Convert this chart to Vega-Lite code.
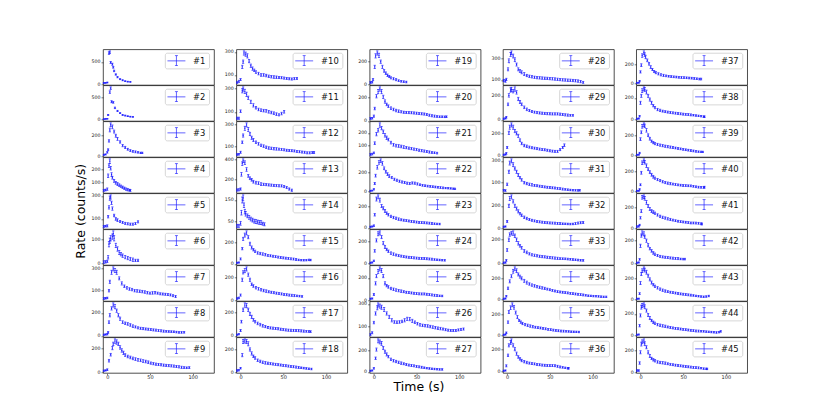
{
  "$schema": "https://vega.github.io/schema/vega-lite/v6.json",
  "background": "white",
  "padding": {"left": 74, "top": 48.3, "right": 2, "bottom": 2},
  "bounds": "flush",
  "spacing": {"row": 0, "column": 22.3},
  "data": {"values": [
    {"id":1,"t":-4,"r":30,"e":7},{"id":1,"t":-2,"r":32,"e":7},{"id":1,"t":0,"r":40,"e":9},{"id":1,"t":2,"r":700,"e":28},{"id":1,"t":3,"r":720,"e":28},{"id":1,"t":4,"r":490,"e":23},{"id":1,"t":6,"r":450,"e":23},{"id":1,"t":7,"r":380,"e":18},{"id":1,"t":8,"r":300,"e":18},{"id":1,"t":10,"r":220,"e":14},{"id":1,"t":12,"r":160,"e":14},{"id":1,"t":15,"r":115,"e":11},{"id":1,"t":18,"r":90,"e":11},{"id":1,"t":21,"r":70,"e":9},{"id":1,"t":24,"r":60,"e":9},{"id":1,"t":27,"r":55,"e":9},
    {"id":2,"t":-4,"r":5,"e":5},{"id":2,"t":-2,"r":8,"e":5},{"id":2,"t":0,"r":10,"e":5},{"id":2,"t":1,"r":100,"e":11},{"id":2,"t":3,"r":620,"e":28},{"id":2,"t":4,"r":710,"e":28},{"id":2,"t":5,"r":400,"e":23},{"id":2,"t":7,"r":385,"e":18},{"id":2,"t":9,"r":260,"e":18},{"id":2,"t":12,"r":190,"e":14},{"id":2,"t":15,"r":140,"e":11},{"id":2,"t":18,"r":100,"e":11},{"id":2,"t":21,"r":85,"e":11},{"id":2,"t":24,"r":70,"e":9},{"id":2,"t":27,"r":60,"e":9},{"id":2,"t":30,"r":55,"e":9},
    {"id":3,"t":-4,"r":12,"e":5},{"id":3,"t":-2,"r":15,"e":5},{"id":3,"t":0,"r":35,"e":7},{"id":3,"t":1,"r":60,"e":9},{"id":3,"t":2,"r":145,"e":11},{"id":3,"t":3,"r":250,"e":18},{"id":3,"t":4,"r":300,"e":18},{"id":3,"t":6,"r":280,"e":18},{"id":3,"t":8,"r":235,"e":14},{"id":3,"t":10,"r":195,"e":14},{"id":3,"t":12,"r":165,"e":14},{"id":3,"t":15,"r":135,"e":11},{"id":3,"t":18,"r":100,"e":11},{"id":3,"t":21,"r":82,"e":11},{"id":3,"t":24,"r":65,"e":9},{"id":3,"t":27,"r":52,"e":9},{"id":3,"t":30,"r":45,"e":9},{"id":3,"t":33,"r":40,"e":9},{"id":3,"t":36,"r":35,"e":7},{"id":3,"t":39,"r":30,"e":7},{"id":3,"t":41,"r":30,"e":7},
    {"id":4,"t":-4,"r":35,"e":7},{"id":4,"t":-2,"r":38,"e":7},{"id":4,"t":0,"r":45,"e":9},{"id":4,"t":1,"r":150,"e":14},{"id":4,"t":2,"r":230,"e":14},{"id":4,"t":3,"r":265,"e":18},{"id":4,"t":4,"r":210,"e":14},{"id":4,"t":5,"r":160,"e":14},{"id":4,"t":6,"r":135,"e":11},{"id":4,"t":8,"r":110,"e":11},{"id":4,"t":10,"r":95,"e":11},{"id":4,"t":12,"r":85,"e":11},{"id":4,"t":14,"r":76,"e":11},{"id":4,"t":16,"r":68,"e":9},{"id":4,"t":18,"r":60,"e":9},{"id":4,"t":20,"r":52,"e":9},{"id":4,"t":22,"r":45,"e":9},{"id":4,"t":24,"r":40,"e":9},{"id":4,"t":26,"r":37,"e":7},{"id":4,"t":27,"r":35,"e":7},
    {"id":5,"t":-4,"r":35,"e":7},{"id":5,"t":-2,"r":38,"e":7},{"id":5,"t":0,"r":40,"e":9},{"id":5,"t":1,"r":120,"e":11},{"id":5,"t":2,"r":200,"e":14},{"id":5,"t":3,"r":280,"e":18},{"id":5,"t":4,"r":290,"e":18},{"id":5,"t":5,"r":240,"e":14},{"id":5,"t":6,"r":190,"e":14},{"id":5,"t":8,"r":130,"e":11},{"id":5,"t":10,"r":100,"e":11},{"id":5,"t":12,"r":90,"e":11},{"id":5,"t":15,"r":78,"e":9},{"id":5,"t":18,"r":70,"e":9},{"id":5,"t":21,"r":62,"e":9},{"id":5,"t":24,"r":58,"e":9},{"id":5,"t":27,"r":55,"e":9},{"id":5,"t":30,"r":55,"e":9},{"id":5,"t":33,"r":60,"e":9},{"id":5,"t":36,"r":75,"e":9},
    {"id":6,"t":-4,"r":5,"e":5},{"id":6,"t":-2,"r":6,"e":5},{"id":6,"t":0,"r":8,"e":5},{"id":6,"t":1,"r":25,"e":7},{"id":6,"t":2,"r":80,"e":11},{"id":6,"t":3,"r":95,"e":11},{"id":6,"t":4,"r":105,"e":11},{"id":6,"t":6,"r":112,"e":11},{"id":6,"t":7,"r":125,"e":11},{"id":6,"t":8,"r":105,"e":11},{"id":6,"t":10,"r":75,"e":9},{"id":6,"t":12,"r":60,"e":9},{"id":6,"t":14,"r":45,"e":9},{"id":6,"t":16,"r":38,"e":7},{"id":6,"t":18,"r":32,"e":7},{"id":6,"t":21,"r":26,"e":7},{"id":6,"t":24,"r":22,"e":7},{"id":6,"t":27,"r":18,"e":7},{"id":6,"t":30,"r":15,"e":7},{"id":6,"t":33,"r":12,"e":5},{"id":6,"t":36,"r":12,"e":5},
    {"id":7,"t":-4,"r":30,"e":7},{"id":7,"t":-2,"r":32,"e":7},{"id":7,"t":0,"r":35,"e":7},{"id":7,"t":2,"r":100,"e":11},{"id":7,"t":3,"r":180,"e":14},{"id":7,"t":5,"r":265,"e":18},{"id":7,"t":7,"r":295,"e":18},{"id":7,"t":9,"r":280,"e":18},{"id":7,"t":11,"r":265,"e":18},{"id":7,"t":14,"r":210,"e":14},{"id":7,"t":17,"r":165,"e":14},{"id":7,"t":20,"r":140,"e":11},{"id":7,"t":23,"r":125,"e":11},{"id":7,"t":26,"r":115,"e":11},{"id":7,"t":29,"r":110,"e":11},{"id":7,"t":32,"r":100,"e":11},{"id":7,"t":35,"r":98,"e":11},{"id":7,"t":38,"r":95,"e":11},{"id":7,"t":41,"r":92,"e":11},{"id":7,"t":44,"r":88,"e":11},{"id":7,"t":47,"r":82,"e":11},{"id":7,"t":50,"r":78,"e":9},{"id":7,"t":53,"r":80,"e":11},{"id":7,"t":56,"r":82,"e":11},{"id":7,"t":59,"r":78,"e":9},{"id":7,"t":62,"r":72,"e":9},{"id":7,"t":65,"r":70,"e":9},{"id":7,"t":68,"r":68,"e":9},{"id":7,"t":71,"r":65,"e":9},{"id":7,"t":74,"r":62,"e":9},{"id":7,"t":77,"r":55,"e":9},{"id":7,"t":80,"r":48,"e":9},
    {"id":8,"t":-4,"r":10,"e":5},{"id":8,"t":-2,"r":12,"e":5},{"id":8,"t":0,"r":15,"e":7},{"id":8,"t":1,"r":30,"e":7},{"id":8,"t":2,"r":120,"e":11},{"id":8,"t":3,"r":180,"e":14},{"id":8,"t":5,"r":240,"e":14},{"id":8,"t":7,"r":270,"e":18},{"id":8,"t":9,"r":255,"e":18},{"id":8,"t":11,"r":220,"e":14},{"id":8,"t":13,"r":180,"e":14},{"id":8,"t":15,"r":150,"e":14},{"id":8,"t":18,"r":120,"e":11},{"id":8,"t":21,"r":110,"e":11},{"id":8,"t":24,"r":104,"e":11},{"id":8,"t":27,"r":95,"e":11},{"id":8,"t":30,"r":85,"e":11},{"id":8,"t":33,"r":78,"e":9},{"id":8,"t":36,"r":70,"e":9},{"id":8,"t":39,"r":66,"e":9},{"id":8,"t":42,"r":63,"e":9},{"id":8,"t":45,"r":60,"e":9},{"id":8,"t":48,"r":58,"e":9},{"id":8,"t":51,"r":55,"e":9},{"id":8,"t":54,"r":52,"e":9},{"id":8,"t":57,"r":50,"e":9},{"id":8,"t":60,"r":46,"e":9},{"id":8,"t":63,"r":44,"e":9},{"id":8,"t":66,"r":41,"e":9},{"id":8,"t":69,"r":39,"e":7},{"id":8,"t":72,"r":38,"e":7},{"id":8,"t":75,"r":37,"e":7},{"id":8,"t":78,"r":36,"e":7},{"id":8,"t":81,"r":33,"e":7},{"id":8,"t":84,"r":30,"e":7},{"id":8,"t":87,"r":30,"e":7},{"id":8,"t":90,"r":31,"e":7},
    {"id":9,"t":-4,"r":12,"e":5},{"id":9,"t":-2,"r":14,"e":5},{"id":9,"t":0,"r":20,"e":7},{"id":9,"t":2,"r":95,"e":11},{"id":9,"t":4,"r":145,"e":11},{"id":9,"t":6,"r":200,"e":14},{"id":9,"t":7,"r":235,"e":14},{"id":9,"t":9,"r":258,"e":18},{"id":9,"t":11,"r":250,"e":18},{"id":9,"t":13,"r":235,"e":14},{"id":9,"t":15,"r":205,"e":14},{"id":9,"t":17,"r":180,"e":14},{"id":9,"t":19,"r":160,"e":14},{"id":9,"t":21,"r":142,"e":11},{"id":9,"t":24,"r":130,"e":11},{"id":9,"t":27,"r":122,"e":11},{"id":9,"t":30,"r":114,"e":11},{"id":9,"t":33,"r":108,"e":11},{"id":9,"t":36,"r":102,"e":11},{"id":9,"t":39,"r":98,"e":11},{"id":9,"t":42,"r":92,"e":11},{"id":9,"t":45,"r":88,"e":11},{"id":9,"t":48,"r":82,"e":11},{"id":9,"t":51,"r":75,"e":9},{"id":9,"t":54,"r":70,"e":9},{"id":9,"t":57,"r":66,"e":9},{"id":9,"t":60,"r":63,"e":9},{"id":9,"t":63,"r":61,"e":9},{"id":9,"t":66,"r":58,"e":9},{"id":9,"t":69,"r":56,"e":9},{"id":9,"t":72,"r":54,"e":9},{"id":9,"t":75,"r":52,"e":9},{"id":9,"t":78,"r":50,"e":9},{"id":9,"t":81,"r":47,"e":9},{"id":9,"t":84,"r":44,"e":9},{"id":9,"t":87,"r":40,"e":9},{"id":9,"t":90,"r":38,"e":7},{"id":9,"t":93,"r":36,"e":7},{"id":9,"t":96,"r":38,"e":7},
    {"id":10,"t":-4,"r":35,"e":7},{"id":10,"t":-2,"r":45,"e":9},{"id":10,"t":0,"r":60,"e":9},{"id":10,"t":2,"r":170,"e":14},{"id":10,"t":3,"r":215,"e":14},{"id":10,"t":4,"r":290,"e":18},{"id":10,"t":6,"r":280,"e":18},{"id":10,"t":8,"r":265,"e":18},{"id":10,"t":10,"r":220,"e":14},{"id":10,"t":12,"r":180,"e":14},{"id":10,"t":14,"r":155,"e":14},{"id":10,"t":16,"r":140,"e":11},{"id":10,"t":18,"r":125,"e":11},{"id":10,"t":21,"r":112,"e":11},{"id":10,"t":24,"r":100,"e":11},{"id":10,"t":27,"r":100,"e":11},{"id":10,"t":30,"r":95,"e":11},{"id":10,"t":33,"r":88,"e":11},{"id":10,"t":36,"r":85,"e":11},{"id":10,"t":39,"r":82,"e":11},{"id":10,"t":42,"r":80,"e":11},{"id":10,"t":45,"r":78,"e":9},{"id":10,"t":48,"r":76,"e":9},{"id":10,"t":51,"r":73,"e":9},{"id":10,"t":54,"r":70,"e":9},{"id":10,"t":57,"r":67,"e":9},{"id":10,"t":60,"r":65,"e":9},{"id":10,"t":63,"r":68,"e":9},{"id":10,"t":66,"r":70,"e":9},
    {"id":11,"t":-4,"r":45,"e":9},{"id":11,"t":-2,"r":45,"e":9},{"id":11,"t":0,"r":105,"e":11},{"id":11,"t":2,"r":280,"e":18},{"id":11,"t":3,"r":295,"e":18},{"id":11,"t":5,"r":275,"e":18},{"id":11,"t":7,"r":250,"e":18},{"id":11,"t":9,"r":220,"e":14},{"id":11,"t":12,"r":185,"e":14},{"id":11,"t":15,"r":155,"e":14},{"id":11,"t":18,"r":135,"e":11},{"id":11,"t":21,"r":120,"e":11},{"id":11,"t":24,"r":114,"e":11},{"id":11,"t":27,"r":110,"e":11},{"id":11,"t":30,"r":108,"e":11},{"id":11,"t":33,"r":100,"e":11},{"id":11,"t":36,"r":94,"e":11},{"id":11,"t":39,"r":88,"e":11},{"id":11,"t":42,"r":80,"e":11},{"id":11,"t":45,"r":74,"e":9},{"id":11,"t":48,"r":85,"e":11},{"id":11,"t":51,"r":100,"e":11},
    {"id":12,"t":-4,"r":30,"e":7},{"id":12,"t":-2,"r":32,"e":7},{"id":12,"t":0,"r":50,"e":9},{"id":12,"t":2,"r":140,"e":11},{"id":12,"t":3,"r":200,"e":14},{"id":12,"t":5,"r":265,"e":18},{"id":12,"t":7,"r":295,"e":18},{"id":12,"t":9,"r":255,"e":18},{"id":12,"t":11,"r":215,"e":14},{"id":12,"t":13,"r":180,"e":14},{"id":12,"t":15,"r":160,"e":14},{"id":12,"t":18,"r":140,"e":11},{"id":12,"t":21,"r":125,"e":11},{"id":12,"t":24,"r":112,"e":11},{"id":12,"t":27,"r":105,"e":11},{"id":12,"t":30,"r":95,"e":11},{"id":12,"t":33,"r":88,"e":11},{"id":12,"t":36,"r":85,"e":11},{"id":12,"t":39,"r":82,"e":11},{"id":12,"t":42,"r":80,"e":11},{"id":12,"t":45,"r":78,"e":9},{"id":12,"t":48,"r":76,"e":9},{"id":12,"t":51,"r":72,"e":9},{"id":12,"t":54,"r":68,"e":9},{"id":12,"t":57,"r":66,"e":9},{"id":12,"t":60,"r":64,"e":9},{"id":12,"t":63,"r":62,"e":9},{"id":12,"t":66,"r":58,"e":9},{"id":12,"t":69,"r":55,"e":9},{"id":12,"t":72,"r":52,"e":9},{"id":12,"t":75,"r":50,"e":9},{"id":12,"t":78,"r":45,"e":9},{"id":12,"t":81,"r":45,"e":9},{"id":12,"t":84,"r":47,"e":9},{"id":12,"t":86,"r":48,"e":9},
    {"id":13,"t":-4,"r":90,"e":11},{"id":13,"t":-2,"r":92,"e":11},{"id":13,"t":0,"r":100,"e":11},{"id":13,"t":1,"r":250,"e":18},{"id":13,"t":2,"r":360,"e":18},{"id":13,"t":3,"r":390,"e":18},{"id":13,"t":5,"r":370,"e":18},{"id":13,"t":7,"r":300,"e":18},{"id":13,"t":9,"r":235,"e":14},{"id":13,"t":11,"r":210,"e":14},{"id":13,"t":13,"r":195,"e":14},{"id":13,"t":15,"r":175,"e":14},{"id":13,"t":18,"r":165,"e":14},{"id":13,"t":21,"r":160,"e":14},{"id":13,"t":24,"r":150,"e":14},{"id":13,"t":27,"r":148,"e":11},{"id":13,"t":30,"r":145,"e":11},{"id":13,"t":33,"r":142,"e":11},{"id":13,"t":36,"r":140,"e":11},{"id":13,"t":39,"r":137,"e":11},{"id":13,"t":42,"r":135,"e":11},{"id":13,"t":45,"r":133,"e":11},{"id":13,"t":48,"r":132,"e":11},{"id":13,"t":51,"r":125,"e":11},{"id":13,"t":54,"r":115,"e":11},{"id":13,"t":57,"r":100,"e":11},{"id":13,"t":60,"r":88,"e":11},
    {"id":14,"t":-4,"r":28,"e":7},{"id":14,"t":-2,"r":28,"e":7},{"id":14,"t":0,"r":40,"e":9},{"id":14,"t":1,"r":90,"e":11},{"id":14,"t":2,"r":150,"e":14},{"id":14,"t":3,"r":160,"e":14},{"id":14,"t":4,"r":125,"e":11},{"id":14,"t":5,"r":95,"e":11},{"id":14,"t":6,"r":85,"e":11},{"id":14,"t":8,"r":75,"e":9},{"id":14,"t":10,"r":68,"e":9},{"id":14,"t":12,"r":60,"e":9},{"id":14,"t":14,"r":55,"e":9},{"id":14,"t":16,"r":50,"e":9},{"id":14,"t":18,"r":48,"e":9},{"id":14,"t":20,"r":46,"e":9},{"id":14,"t":22,"r":44,"e":9},{"id":14,"t":24,"r":43,"e":9},{"id":14,"t":26,"r":38,"e":7},{"id":14,"t":28,"r":35,"e":7},
    {"id":15,"t":-4,"r":10,"e":5},{"id":15,"t":-2,"r":12,"e":5},{"id":15,"t":0,"r":45,"e":9},{"id":15,"t":2,"r":140,"e":11},{"id":15,"t":3,"r":230,"e":14},{"id":15,"t":5,"r":265,"e":18},{"id":15,"t":7,"r":285,"e":18},{"id":15,"t":9,"r":245,"e":14},{"id":15,"t":11,"r":185,"e":14},{"id":15,"t":13,"r":150,"e":14},{"id":15,"t":15,"r":130,"e":11},{"id":15,"t":17,"r":115,"e":11},{"id":15,"t":20,"r":100,"e":11},{"id":15,"t":23,"r":95,"e":11},{"id":15,"t":26,"r":90,"e":11},{"id":15,"t":29,"r":84,"e":11},{"id":15,"t":32,"r":78,"e":9},{"id":15,"t":35,"r":74,"e":9},{"id":15,"t":38,"r":70,"e":9},{"id":15,"t":41,"r":66,"e":9},{"id":15,"t":44,"r":62,"e":9},{"id":15,"t":47,"r":58,"e":9},{"id":15,"t":50,"r":55,"e":9},{"id":15,"t":53,"r":52,"e":9},{"id":15,"t":56,"r":50,"e":9},{"id":15,"t":59,"r":46,"e":9},{"id":15,"t":62,"r":44,"e":9},{"id":15,"t":65,"r":40,"e":9},{"id":15,"t":68,"r":36,"e":7},{"id":15,"t":71,"r":34,"e":7},{"id":15,"t":74,"r":33,"e":7},{"id":15,"t":77,"r":34,"e":7},{"id":15,"t":80,"r":36,"e":7},{"id":15,"t":82,"r":35,"e":7},
    {"id":16,"t":-4,"r":15,"e":7},{"id":16,"t":-2,"r":20,"e":7},{"id":16,"t":0,"r":45,"e":9},{"id":16,"t":2,"r":180,"e":14},{"id":16,"t":3,"r":245,"e":14},{"id":16,"t":5,"r":260,"e":18},{"id":16,"t":7,"r":275,"e":18},{"id":16,"t":9,"r":225,"e":14},{"id":16,"t":11,"r":180,"e":14},{"id":16,"t":13,"r":140,"e":11},{"id":16,"t":15,"r":125,"e":11},{"id":16,"t":18,"r":110,"e":11},{"id":16,"t":21,"r":100,"e":11},{"id":16,"t":24,"r":92,"e":11},{"id":16,"t":27,"r":85,"e":11},{"id":16,"t":30,"r":80,"e":11},{"id":16,"t":33,"r":74,"e":9},{"id":16,"t":36,"r":70,"e":9},{"id":16,"t":39,"r":66,"e":9},{"id":16,"t":42,"r":62,"e":9},{"id":16,"t":45,"r":58,"e":9},{"id":16,"t":48,"r":55,"e":9},{"id":16,"t":51,"r":51,"e":9},{"id":16,"t":54,"r":48,"e":9},{"id":16,"t":57,"r":45,"e":9},{"id":16,"t":60,"r":43,"e":9},{"id":16,"t":63,"r":40,"e":9},{"id":16,"t":66,"r":38,"e":7},{"id":16,"t":69,"r":36,"e":7},{"id":16,"t":72,"r":33,"e":7},
    {"id":17,"t":-4,"r":10,"e":5},{"id":17,"t":-2,"r":14,"e":5},{"id":17,"t":0,"r":45,"e":9},{"id":17,"t":1,"r":120,"e":11},{"id":17,"t":3,"r":220,"e":14},{"id":17,"t":5,"r":260,"e":18},{"id":17,"t":7,"r":255,"e":18},{"id":17,"t":9,"r":220,"e":14},{"id":17,"t":11,"r":185,"e":14},{"id":17,"t":13,"r":160,"e":14},{"id":17,"t":15,"r":135,"e":11},{"id":17,"t":17,"r":120,"e":11},{"id":17,"t":20,"r":105,"e":11},{"id":17,"t":23,"r":95,"e":11},{"id":17,"t":26,"r":85,"e":11},{"id":17,"t":29,"r":78,"e":9},{"id":17,"t":32,"r":70,"e":9},{"id":17,"t":35,"r":67,"e":9},{"id":17,"t":38,"r":65,"e":9},{"id":17,"t":41,"r":62,"e":9},{"id":17,"t":44,"r":60,"e":9},{"id":17,"t":47,"r":56,"e":9},{"id":17,"t":50,"r":53,"e":9},{"id":17,"t":53,"r":50,"e":9},{"id":17,"t":56,"r":48,"e":9},{"id":17,"t":59,"r":47,"e":9},{"id":17,"t":62,"r":46,"e":9},{"id":17,"t":65,"r":45,"e":9},{"id":17,"t":68,"r":44,"e":9},{"id":17,"t":71,"r":42,"e":9},{"id":17,"t":74,"r":40,"e":9},{"id":17,"t":77,"r":38,"e":7},{"id":17,"t":80,"r":37,"e":7},{"id":17,"t":82,"r":36,"e":7},
    {"id":18,"t":-4,"r":15,"e":7},{"id":18,"t":-2,"r":18,"e":7},{"id":18,"t":0,"r":35,"e":7},{"id":18,"t":2,"r":150,"e":14},{"id":18,"t":3,"r":270,"e":18},{"id":18,"t":5,"r":275,"e":18},{"id":18,"t":7,"r":270,"e":18},{"id":18,"t":9,"r":250,"e":18},{"id":18,"t":11,"r":200,"e":14},{"id":18,"t":13,"r":165,"e":14},{"id":18,"t":15,"r":140,"e":11},{"id":18,"t":17,"r":125,"e":11},{"id":18,"t":20,"r":105,"e":11},{"id":18,"t":23,"r":95,"e":11},{"id":18,"t":26,"r":87,"e":11},{"id":18,"t":29,"r":82,"e":11},{"id":18,"t":32,"r":79,"e":9},{"id":18,"t":35,"r":75,"e":9},{"id":18,"t":38,"r":72,"e":9},{"id":18,"t":41,"r":69,"e":9},{"id":18,"t":44,"r":66,"e":9},{"id":18,"t":47,"r":63,"e":9},{"id":18,"t":50,"r":60,"e":9},{"id":18,"t":53,"r":57,"e":9},{"id":18,"t":56,"r":54,"e":9},{"id":18,"t":59,"r":51,"e":9},{"id":18,"t":62,"r":48,"e":9},{"id":18,"t":65,"r":45,"e":9},{"id":18,"t":68,"r":42,"e":9},{"id":18,"t":71,"r":39,"e":7},{"id":18,"t":74,"r":36,"e":7},{"id":18,"t":77,"r":33,"e":7},{"id":18,"t":80,"r":30,"e":7},{"id":18,"t":83,"r":28,"e":7},
    {"id":19,"t":-4,"r":20,"e":7},{"id":19,"t":-2,"r":22,"e":7},{"id":19,"t":-1,"r":45,"e":9},{"id":19,"t":1,"r":155,"e":14},{"id":19,"t":2,"r":250,"e":18},{"id":19,"t":4,"r":275,"e":18},{"id":19,"t":6,"r":255,"e":18},{"id":19,"t":8,"r":200,"e":14},{"id":19,"t":10,"r":155,"e":14},{"id":19,"t":12,"r":120,"e":11},{"id":19,"t":14,"r":100,"e":11},{"id":19,"t":16,"r":82,"e":11},{"id":19,"t":18,"r":72,"e":9},{"id":19,"t":20,"r":60,"e":9},{"id":19,"t":23,"r":52,"e":9},{"id":19,"t":26,"r":44,"e":9},{"id":19,"t":29,"r":36,"e":7},{"id":19,"t":32,"r":30,"e":7},{"id":19,"t":35,"r":27,"e":7},{"id":19,"t":38,"r":24,"e":7},
    {"id":20,"t":-4,"r":20,"e":7},{"id":20,"t":-2,"r":22,"e":7},{"id":20,"t":0,"r":40,"e":9},{"id":20,"t":1,"r":105,"e":11},{"id":20,"t":3,"r":210,"e":14},{"id":20,"t":5,"r":250,"e":18},{"id":20,"t":7,"r":272,"e":18},{"id":20,"t":9,"r":250,"e":18},{"id":20,"t":11,"r":205,"e":14},{"id":20,"t":13,"r":165,"e":14},{"id":20,"t":15,"r":140,"e":11},{"id":20,"t":17,"r":125,"e":11},{"id":20,"t":20,"r":108,"e":11},{"id":20,"t":23,"r":97,"e":11},{"id":20,"t":26,"r":88,"e":11},{"id":20,"t":29,"r":82,"e":11},{"id":20,"t":32,"r":77,"e":9},{"id":20,"t":35,"r":73,"e":9},{"id":20,"t":38,"r":71,"e":9},{"id":20,"t":41,"r":70,"e":9},{"id":20,"t":44,"r":69,"e":9},{"id":20,"t":47,"r":67,"e":9},{"id":20,"t":50,"r":65,"e":9},{"id":20,"t":53,"r":62,"e":9},{"id":20,"t":56,"r":60,"e":9},{"id":20,"t":59,"r":58,"e":9},{"id":20,"t":62,"r":54,"e":9},{"id":20,"t":65,"r":48,"e":9},{"id":20,"t":68,"r":43,"e":9},{"id":20,"t":71,"r":40,"e":9},{"id":20,"t":74,"r":37,"e":7},{"id":20,"t":77,"r":35,"e":7},{"id":20,"t":80,"r":35,"e":7},{"id":20,"t":83,"r":34,"e":7},{"id":20,"t":85,"r":35,"e":7},
    {"id":21,"t":-4,"r":22,"e":7},{"id":21,"t":-2,"r":25,"e":7},{"id":21,"t":0,"r":35,"e":7},{"id":21,"t":1,"r":115,"e":11},{"id":21,"t":3,"r":190,"e":14},{"id":21,"t":5,"r":222,"e":14},{"id":21,"t":7,"r":265,"e":18},{"id":21,"t":9,"r":240,"e":14},{"id":21,"t":11,"r":210,"e":14},{"id":21,"t":13,"r":180,"e":14},{"id":21,"t":15,"r":160,"e":14},{"id":21,"t":17,"r":145,"e":11},{"id":21,"t":20,"r":120,"e":11},{"id":21,"t":23,"r":102,"e":11},{"id":21,"t":26,"r":95,"e":11},{"id":21,"t":29,"r":92,"e":11},{"id":21,"t":32,"r":88,"e":11},{"id":21,"t":35,"r":83,"e":11},{"id":21,"t":38,"r":78,"e":9},{"id":21,"t":41,"r":74,"e":9},{"id":21,"t":44,"r":70,"e":9},{"id":21,"t":47,"r":66,"e":9},{"id":21,"t":50,"r":62,"e":9},{"id":21,"t":53,"r":57,"e":9},{"id":21,"t":56,"r":53,"e":9},{"id":21,"t":59,"r":50,"e":9},{"id":21,"t":62,"r":46,"e":9},{"id":21,"t":65,"r":42,"e":9},{"id":21,"t":68,"r":38,"e":7},{"id":21,"t":71,"r":36,"e":7},{"id":21,"t":74,"r":33,"e":7},
    {"id":22,"t":-4,"r":10,"e":5},{"id":22,"t":-2,"r":12,"e":5},{"id":22,"t":0,"r":25,"e":7},{"id":22,"t":1,"r":85,"e":11},{"id":22,"t":2,"r":165,"e":14},{"id":22,"t":4,"r":250,"e":18},{"id":22,"t":6,"r":300,"e":18},{"id":22,"t":8,"r":318,"e":18},{"id":22,"t":10,"r":290,"e":18},{"id":22,"t":12,"r":240,"e":14},{"id":22,"t":14,"r":205,"e":14},{"id":22,"t":16,"r":180,"e":14},{"id":22,"t":18,"r":160,"e":14},{"id":22,"t":21,"r":145,"e":11},{"id":22,"t":24,"r":128,"e":11},{"id":22,"t":27,"r":118,"e":11},{"id":22,"t":30,"r":108,"e":11},{"id":22,"t":33,"r":100,"e":11},{"id":22,"t":36,"r":95,"e":11},{"id":22,"t":39,"r":88,"e":11},{"id":22,"t":42,"r":84,"e":11},{"id":22,"t":45,"r":90,"e":11},{"id":22,"t":48,"r":88,"e":11},{"id":22,"t":51,"r":80,"e":11},{"id":22,"t":54,"r":72,"e":9},{"id":22,"t":57,"r":66,"e":9},{"id":22,"t":60,"r":62,"e":9},{"id":22,"t":63,"r":58,"e":9},{"id":22,"t":66,"r":55,"e":9},{"id":22,"t":69,"r":52,"e":9},{"id":22,"t":72,"r":49,"e":9},{"id":22,"t":75,"r":46,"e":9},{"id":22,"t":78,"r":43,"e":9},{"id":22,"t":81,"r":40,"e":9},{"id":22,"t":84,"r":38,"e":7},{"id":22,"t":87,"r":36,"e":7},{"id":22,"t":90,"r":34,"e":7},{"id":22,"t":93,"r":32,"e":7},{"id":22,"t":95,"r":30,"e":7},
    {"id":23,"t":-4,"r":10,"e":5},{"id":23,"t":-2,"r":12,"e":5},{"id":23,"t":0,"r":20,"e":7},{"id":23,"t":1,"r":120,"e":11},{"id":23,"t":3,"r":265,"e":18},{"id":23,"t":5,"r":285,"e":18},{"id":23,"t":7,"r":255,"e":18},{"id":23,"t":9,"r":200,"e":14},{"id":23,"t":11,"r":180,"e":14},{"id":23,"t":13,"r":155,"e":14},{"id":23,"t":15,"r":135,"e":11},{"id":23,"t":17,"r":120,"e":11},{"id":23,"t":20,"r":105,"e":11},{"id":23,"t":23,"r":95,"e":11},{"id":23,"t":26,"r":88,"e":11},{"id":23,"t":29,"r":80,"e":11},{"id":23,"t":32,"r":74,"e":9},{"id":23,"t":35,"r":70,"e":9},{"id":23,"t":38,"r":67,"e":9},{"id":23,"t":41,"r":63,"e":9},{"id":23,"t":44,"r":59,"e":9},{"id":23,"t":47,"r":56,"e":9},{"id":23,"t":50,"r":53,"e":9},{"id":23,"t":53,"r":50,"e":9},{"id":23,"t":56,"r":48,"e":9},{"id":23,"t":59,"r":47,"e":9},{"id":23,"t":62,"r":45,"e":9},{"id":23,"t":65,"r":43,"e":9},{"id":23,"t":68,"r":40,"e":9},{"id":23,"t":71,"r":38,"e":7},{"id":23,"t":74,"r":36,"e":7},{"id":23,"t":77,"r":35,"e":7},
    {"id":24,"t":-4,"r":8,"e":5},{"id":24,"t":-2,"r":10,"e":5},{"id":24,"t":0,"r":25,"e":7},{"id":24,"t":1,"r":115,"e":11},{"id":24,"t":3,"r":210,"e":14},{"id":24,"t":5,"r":270,"e":18},{"id":24,"t":7,"r":278,"e":18},{"id":24,"t":9,"r":240,"e":14},{"id":24,"t":11,"r":185,"e":14},{"id":24,"t":13,"r":150,"e":14},{"id":24,"t":15,"r":128,"e":11},{"id":24,"t":17,"r":112,"e":11},{"id":24,"t":20,"r":95,"e":11},{"id":24,"t":23,"r":86,"e":11},{"id":24,"t":26,"r":78,"e":9},{"id":24,"t":29,"r":72,"e":9},{"id":24,"t":32,"r":68,"e":9},{"id":24,"t":35,"r":63,"e":9},{"id":24,"t":38,"r":60,"e":9},{"id":24,"t":41,"r":57,"e":9},{"id":24,"t":44,"r":55,"e":9},{"id":24,"t":47,"r":52,"e":9},{"id":24,"t":50,"r":50,"e":9},{"id":24,"t":53,"r":48,"e":9},{"id":24,"t":56,"r":47,"e":9},{"id":24,"t":59,"r":46,"e":9},{"id":24,"t":62,"r":44,"e":9},{"id":24,"t":65,"r":42,"e":9},{"id":24,"t":68,"r":40,"e":9},{"id":24,"t":71,"r":37,"e":7},{"id":24,"t":74,"r":35,"e":7},{"id":24,"t":77,"r":33,"e":7},{"id":24,"t":80,"r":31,"e":7},{"id":24,"t":83,"r":30,"e":7},
    {"id":25,"t":-4,"r":12,"e":5},{"id":25,"t":-2,"r":14,"e":5},{"id":25,"t":0,"r":50,"e":9},{"id":25,"t":2,"r":150,"e":14},{"id":25,"t":3,"r":215,"e":14},{"id":25,"t":5,"r":258,"e":18},{"id":25,"t":7,"r":280,"e":18},{"id":25,"t":9,"r":265,"e":18},{"id":25,"t":11,"r":215,"e":14},{"id":25,"t":13,"r":150,"e":14},{"id":25,"t":15,"r":130,"e":11},{"id":25,"t":17,"r":118,"e":11},{"id":25,"t":20,"r":104,"e":11},{"id":25,"t":23,"r":97,"e":11},{"id":25,"t":26,"r":90,"e":11},{"id":25,"t":29,"r":85,"e":11},{"id":25,"t":32,"r":80,"e":11},{"id":25,"t":35,"r":75,"e":9},{"id":25,"t":38,"r":70,"e":9},{"id":25,"t":41,"r":67,"e":9},{"id":25,"t":44,"r":64,"e":9},{"id":25,"t":47,"r":61,"e":9},{"id":25,"t":50,"r":58,"e":9},{"id":25,"t":53,"r":56,"e":9},{"id":25,"t":56,"r":55,"e":9},{"id":25,"t":59,"r":55,"e":9},{"id":25,"t":62,"r":52,"e":9},{"id":25,"t":65,"r":49,"e":9},{"id":25,"t":68,"r":46,"e":9},{"id":25,"t":71,"r":43,"e":9},{"id":25,"t":74,"r":40,"e":9},{"id":25,"t":77,"r":38,"e":7},{"id":25,"t":80,"r":37,"e":7},
    {"id":26,"t":-4,"r":30,"e":7},{"id":26,"t":-2,"r":45,"e":9},{"id":26,"t":0,"r":135,"e":11},{"id":26,"t":2,"r":215,"e":14},{"id":26,"t":4,"r":265,"e":18},{"id":26,"t":5,"r":290,"e":18},{"id":26,"t":7,"r":280,"e":18},{"id":26,"t":9,"r":270,"e":18},{"id":26,"t":12,"r":250,"e":18},{"id":26,"t":15,"r":215,"e":14},{"id":26,"t":18,"r":185,"e":14},{"id":26,"t":21,"r":155,"e":14},{"id":26,"t":24,"r":140,"e":11},{"id":26,"t":27,"r":138,"e":11},{"id":26,"t":30,"r":140,"e":11},{"id":26,"t":33,"r":145,"e":11},{"id":26,"t":36,"r":155,"e":14},{"id":26,"t":39,"r":168,"e":14},{"id":26,"t":42,"r":165,"e":14},{"id":26,"t":45,"r":150,"e":14},{"id":26,"t":48,"r":138,"e":11},{"id":26,"t":51,"r":125,"e":11},{"id":26,"t":54,"r":115,"e":11},{"id":26,"t":57,"r":110,"e":11},{"id":26,"t":60,"r":108,"e":11},{"id":26,"t":63,"r":105,"e":11},{"id":26,"t":66,"r":100,"e":11},{"id":26,"t":69,"r":95,"e":11},{"id":26,"t":72,"r":90,"e":11},{"id":26,"t":75,"r":85,"e":11},{"id":26,"t":78,"r":82,"e":11},{"id":26,"t":81,"r":78,"e":9},{"id":26,"t":84,"r":72,"e":9},{"id":26,"t":87,"r":68,"e":9},{"id":26,"t":90,"r":66,"e":9},{"id":26,"t":93,"r":65,"e":9},{"id":26,"t":96,"r":66,"e":9},{"id":26,"t":99,"r":70,"e":9},{"id":26,"t":102,"r":75,"e":9},{"id":26,"t":105,"r":78,"e":9},
    {"id":27,"t":-4,"r":10,"e":5},{"id":27,"t":-2,"r":12,"e":5},{"id":27,"t":0,"r":32,"e":7},{"id":27,"t":2,"r":125,"e":11},{"id":27,"t":3,"r":205,"e":14},{"id":27,"t":5,"r":285,"e":18},{"id":27,"t":7,"r":275,"e":18},{"id":27,"t":9,"r":262,"e":18},{"id":27,"t":11,"r":220,"e":14},{"id":27,"t":13,"r":185,"e":14},{"id":27,"t":15,"r":160,"e":14},{"id":27,"t":17,"r":140,"e":11},{"id":27,"t":20,"r":115,"e":11},{"id":27,"t":23,"r":102,"e":11},{"id":27,"t":26,"r":95,"e":11},{"id":27,"t":29,"r":87,"e":11},{"id":27,"t":32,"r":80,"e":11},{"id":27,"t":35,"r":74,"e":9},{"id":27,"t":38,"r":67,"e":9},{"id":27,"t":41,"r":62,"e":9},{"id":27,"t":44,"r":58,"e":9},{"id":27,"t":47,"r":55,"e":9},{"id":27,"t":50,"r":50,"e":9},{"id":27,"t":53,"r":46,"e":9},{"id":27,"t":56,"r":42,"e":9},{"id":27,"t":59,"r":38,"e":7},{"id":27,"t":62,"r":34,"e":7},{"id":27,"t":65,"r":31,"e":7},{"id":27,"t":68,"r":28,"e":7},{"id":27,"t":71,"r":26,"e":7},{"id":27,"t":74,"r":24,"e":7},{"id":27,"t":77,"r":22,"e":7},{"id":27,"t":80,"r":22,"e":7},
    {"id":28,"t":-4,"r":95,"e":11},{"id":28,"t":-2,"r":90,"e":11},{"id":28,"t":-1,"r":105,"e":11},{"id":28,"t":1,"r":200,"e":14},{"id":28,"t":2,"r":280,"e":18},{"id":28,"t":4,"r":340,"e":18},{"id":28,"t":5,"r":355,"e":18},{"id":28,"t":7,"r":325,"e":18},{"id":28,"t":9,"r":290,"e":18},{"id":28,"t":11,"r":245,"e":14},{"id":28,"t":13,"r":200,"e":14},{"id":28,"t":15,"r":185,"e":14},{"id":28,"t":17,"r":172,"e":14},{"id":28,"t":20,"r":155,"e":14},{"id":28,"t":23,"r":142,"e":11},{"id":28,"t":26,"r":135,"e":11},{"id":28,"t":29,"r":130,"e":11},{"id":28,"t":32,"r":126,"e":11},{"id":28,"t":35,"r":122,"e":11},{"id":28,"t":38,"r":120,"e":11},{"id":28,"t":41,"r":118,"e":11},{"id":28,"t":44,"r":116,"e":11},{"id":28,"t":47,"r":115,"e":11},{"id":28,"t":50,"r":113,"e":11},{"id":28,"t":53,"r":111,"e":11},{"id":28,"t":56,"r":109,"e":11},{"id":28,"t":59,"r":106,"e":11},{"id":28,"t":62,"r":104,"e":11},{"id":28,"t":65,"r":101,"e":11},{"id":28,"t":68,"r":100,"e":11},{"id":28,"t":71,"r":98,"e":11},{"id":28,"t":74,"r":97,"e":11},{"id":28,"t":77,"r":95,"e":11},{"id":28,"t":80,"r":93,"e":11},{"id":28,"t":83,"r":90,"e":11},{"id":28,"t":86,"r":85,"e":11},{"id":28,"t":89,"r":78,"e":9},
    {"id":29,"t":-4,"r":10,"e":5},{"id":29,"t":-2,"r":12,"e":5},{"id":29,"t":-1,"r":22,"e":7},{"id":29,"t":1,"r":130,"e":11},{"id":29,"t":2,"r":205,"e":14},{"id":29,"t":4,"r":250,"e":18},{"id":29,"t":5,"r":255,"e":18},{"id":29,"t":7,"r":240,"e":14},{"id":29,"t":9,"r":258,"e":18},{"id":29,"t":11,"r":230,"e":14},{"id":29,"t":13,"r":175,"e":14},{"id":29,"t":15,"r":150,"e":14},{"id":29,"t":17,"r":130,"e":11},{"id":29,"t":20,"r":105,"e":11},{"id":29,"t":23,"r":88,"e":11},{"id":29,"t":26,"r":78,"e":9},{"id":29,"t":29,"r":70,"e":9},{"id":29,"t":32,"r":65,"e":9},{"id":29,"t":35,"r":61,"e":9},{"id":29,"t":38,"r":58,"e":9},{"id":29,"t":41,"r":56,"e":9},{"id":29,"t":44,"r":54,"e":9},{"id":29,"t":47,"r":52,"e":9},{"id":29,"t":50,"r":51,"e":9},{"id":29,"t":53,"r":50,"e":9},{"id":29,"t":56,"r":50,"e":9},{"id":29,"t":59,"r":50,"e":9},{"id":29,"t":62,"r":48,"e":9},{"id":29,"t":65,"r":45,"e":9},{"id":29,"t":68,"r":42,"e":9},{"id":29,"t":71,"r":40,"e":9},{"id":29,"t":74,"r":38,"e":7},{"id":29,"t":77,"r":38,"e":7},
    {"id":30,"t":-4,"r":10,"e":5},{"id":30,"t":-2,"r":12,"e":5},{"id":30,"t":-1,"r":22,"e":7},{"id":30,"t":0,"r":75,"e":9},{"id":30,"t":2,"r":205,"e":14},{"id":30,"t":3,"r":255,"e":18},{"id":30,"t":5,"r":275,"e":18},{"id":30,"t":7,"r":255,"e":18},{"id":30,"t":9,"r":220,"e":14},{"id":30,"t":11,"r":200,"e":14},{"id":30,"t":13,"r":178,"e":14},{"id":30,"t":15,"r":140,"e":11},{"id":30,"t":17,"r":110,"e":11},{"id":30,"t":20,"r":92,"e":11},{"id":30,"t":23,"r":85,"e":11},{"id":30,"t":26,"r":78,"e":9},{"id":30,"t":29,"r":72,"e":9},{"id":30,"t":32,"r":68,"e":9},{"id":30,"t":35,"r":64,"e":9},{"id":30,"t":38,"r":60,"e":9},{"id":30,"t":41,"r":56,"e":9},{"id":30,"t":44,"r":54,"e":9},{"id":30,"t":47,"r":50,"e":9},{"id":30,"t":50,"r":45,"e":9},{"id":30,"t":53,"r":42,"e":9},{"id":30,"t":56,"r":40,"e":9},{"id":30,"t":59,"r":40,"e":9},{"id":30,"t":62,"r":55,"e":9},{"id":30,"t":65,"r":75,"e":9},{"id":30,"t":67,"r":95,"e":11},
    {"id":31,"t":-4,"r":30,"e":7},{"id":31,"t":-2,"r":28,"e":7},{"id":31,"t":0,"r":85,"e":11},{"id":31,"t":2,"r":200,"e":14},{"id":31,"t":3,"r":280,"e":18},{"id":31,"t":5,"r":300,"e":18},{"id":31,"t":7,"r":265,"e":18},{"id":31,"t":9,"r":230,"e":14},{"id":31,"t":11,"r":200,"e":14},{"id":31,"t":13,"r":170,"e":14},{"id":31,"t":15,"r":145,"e":11},{"id":31,"t":17,"r":125,"e":11},{"id":31,"t":20,"r":100,"e":11},{"id":31,"t":23,"r":92,"e":11},{"id":31,"t":26,"r":85,"e":11},{"id":31,"t":29,"r":80,"e":11},{"id":31,"t":32,"r":76,"e":9},{"id":31,"t":35,"r":72,"e":9},{"id":31,"t":38,"r":68,"e":9},{"id":31,"t":41,"r":64,"e":9},{"id":31,"t":44,"r":61,"e":9},{"id":31,"t":47,"r":58,"e":9},{"id":31,"t":50,"r":56,"e":9},{"id":31,"t":53,"r":53,"e":9},{"id":31,"t":56,"r":51,"e":9},{"id":31,"t":59,"r":48,"e":9},{"id":31,"t":62,"r":45,"e":9},{"id":31,"t":65,"r":41,"e":9},{"id":31,"t":68,"r":38,"e":7},{"id":31,"t":71,"r":36,"e":7},{"id":31,"t":74,"r":33,"e":7},{"id":31,"t":77,"r":31,"e":7},{"id":31,"t":80,"r":30,"e":7},{"id":31,"t":83,"r":29,"e":7},{"id":31,"t":85,"r":30,"e":7},
    {"id":32,"t":-4,"r":12,"e":5},{"id":32,"t":-2,"r":14,"e":5},{"id":32,"t":0,"r":60,"e":9},{"id":32,"t":2,"r":200,"e":14},{"id":32,"t":3,"r":265,"e":18},{"id":32,"t":5,"r":280,"e":18},{"id":32,"t":7,"r":240,"e":14},{"id":32,"t":9,"r":200,"e":14},{"id":32,"t":11,"r":175,"e":14},{"id":32,"t":13,"r":150,"e":14},{"id":32,"t":15,"r":130,"e":11},{"id":32,"t":17,"r":115,"e":11},{"id":32,"t":20,"r":97,"e":11},{"id":32,"t":23,"r":86,"e":11},{"id":32,"t":26,"r":77,"e":9},{"id":32,"t":29,"r":70,"e":9},{"id":32,"t":32,"r":64,"e":9},{"id":32,"t":35,"r":60,"e":9},{"id":32,"t":38,"r":56,"e":9},{"id":32,"t":41,"r":53,"e":9},{"id":32,"t":44,"r":50,"e":9},{"id":32,"t":47,"r":48,"e":9},{"id":32,"t":50,"r":46,"e":9},{"id":32,"t":53,"r":45,"e":9},{"id":32,"t":56,"r":44,"e":9},{"id":32,"t":59,"r":42,"e":9},{"id":32,"t":62,"r":40,"e":9},{"id":32,"t":65,"r":39,"e":7},{"id":32,"t":68,"r":38,"e":7},{"id":32,"t":71,"r":37,"e":7},{"id":32,"t":74,"r":36,"e":7},{"id":32,"t":77,"r":37,"e":7},{"id":32,"t":80,"r":40,"e":9},{"id":32,"t":83,"r":45,"e":9},{"id":32,"t":86,"r":48,"e":9},{"id":32,"t":89,"r":50,"e":9},
    {"id":33,"t":-4,"r":5,"e":5},{"id":33,"t":-2,"r":6,"e":5},{"id":33,"t":-1,"r":24,"e":7},{"id":33,"t":0,"r":110,"e":11},{"id":33,"t":2,"r":195,"e":14},{"id":33,"t":3,"r":238,"e":14},{"id":33,"t":5,"r":248,"e":14},{"id":33,"t":7,"r":250,"e":18},{"id":33,"t":9,"r":228,"e":14},{"id":33,"t":11,"r":195,"e":14},{"id":33,"t":13,"r":165,"e":14},{"id":33,"t":15,"r":145,"e":11},{"id":33,"t":17,"r":128,"e":11},{"id":33,"t":20,"r":102,"e":11},{"id":33,"t":23,"r":90,"e":11},{"id":33,"t":26,"r":78,"e":9},{"id":33,"t":29,"r":70,"e":9},{"id":33,"t":32,"r":66,"e":9},{"id":33,"t":35,"r":62,"e":9},{"id":33,"t":38,"r":58,"e":9},{"id":33,"t":41,"r":55,"e":9},{"id":33,"t":44,"r":53,"e":9},{"id":33,"t":47,"r":50,"e":9},{"id":33,"t":50,"r":47,"e":9},{"id":33,"t":53,"r":45,"e":9},{"id":33,"t":56,"r":43,"e":9},{"id":33,"t":59,"r":41,"e":9},{"id":33,"t":62,"r":39,"e":7},{"id":33,"t":65,"r":38,"e":7},{"id":33,"t":68,"r":37,"e":7},{"id":33,"t":71,"r":35,"e":7},{"id":33,"t":74,"r":33,"e":7},{"id":33,"t":77,"r":31,"e":7},{"id":33,"t":80,"r":29,"e":7},{"id":33,"t":83,"r":27,"e":7},{"id":33,"t":86,"r":25,"e":7},{"id":33,"t":89,"r":24,"e":7},
    {"id":34,"t":-4,"r":6,"e":5},{"id":34,"t":-2,"r":8,"e":5},{"id":34,"t":-1,"r":30,"e":7},{"id":34,"t":1,"r":105,"e":11},{"id":34,"t":3,"r":170,"e":14},{"id":34,"t":5,"r":218,"e":14},{"id":34,"t":7,"r":265,"e":18},{"id":34,"t":9,"r":288,"e":18},{"id":34,"t":11,"r":270,"e":18},{"id":34,"t":13,"r":235,"e":14},{"id":34,"t":15,"r":215,"e":14},{"id":34,"t":17,"r":198,"e":14},{"id":34,"t":20,"r":175,"e":14},{"id":34,"t":23,"r":158,"e":14},{"id":34,"t":26,"r":145,"e":11},{"id":34,"t":29,"r":135,"e":11},{"id":34,"t":32,"r":127,"e":11},{"id":34,"t":35,"r":120,"e":11},{"id":34,"t":38,"r":114,"e":11},{"id":34,"t":41,"r":108,"e":11},{"id":34,"t":44,"r":103,"e":11},{"id":34,"t":47,"r":97,"e":9},{"id":34,"t":50,"r":91,"e":9},{"id":34,"t":53,"r":85,"e":9},{"id":34,"t":56,"r":79,"e":9},{"id":34,"t":59,"r":73,"e":9},{"id":34,"t":62,"r":70,"e":9},{"id":34,"t":65,"r":67,"e":9},{"id":34,"t":68,"r":64,"e":9},{"id":34,"t":71,"r":61,"e":9},{"id":34,"t":74,"r":57,"e":9},{"id":34,"t":77,"r":54,"e":9},{"id":34,"t":80,"r":51,"e":9},{"id":34,"t":83,"r":48,"e":9},{"id":34,"t":86,"r":45,"e":9},{"id":34,"t":89,"r":42,"e":9},{"id":34,"t":92,"r":38,"e":7},{"id":34,"t":95,"r":35,"e":7},{"id":34,"t":98,"r":33,"e":7},{"id":34,"t":101,"r":31,"e":7},{"id":34,"t":104,"r":30,"e":7},{"id":34,"t":107,"r":28,"e":7},{"id":34,"t":110,"r":26,"e":7},{"id":34,"t":113,"r":24,"e":7},{"id":34,"t":116,"r":24,"e":7},
    {"id":35,"t":-4,"r":6,"e":5},{"id":35,"t":-2,"r":8,"e":5},{"id":35,"t":-1,"r":25,"e":7},{"id":35,"t":1,"r":125,"e":11},{"id":35,"t":2,"r":220,"e":14},{"id":35,"t":4,"r":260,"e":18},{"id":35,"t":6,"r":288,"e":18},{"id":35,"t":8,"r":265,"e":18},{"id":35,"t":10,"r":215,"e":14},{"id":35,"t":12,"r":172,"e":14},{"id":35,"t":14,"r":140,"e":11},{"id":35,"t":16,"r":125,"e":11},{"id":35,"t":18,"r":112,"e":11},{"id":35,"t":21,"r":102,"e":11},{"id":35,"t":24,"r":95,"e":11},{"id":35,"t":27,"r":88,"e":11},{"id":35,"t":30,"r":82,"e":11},{"id":35,"t":33,"r":77,"e":9},{"id":35,"t":36,"r":73,"e":9},{"id":35,"t":39,"r":70,"e":9},{"id":35,"t":42,"r":66,"e":9},{"id":35,"t":45,"r":62,"e":9},{"id":35,"t":48,"r":57,"e":9},{"id":35,"t":51,"r":54,"e":9},{"id":35,"t":54,"r":50,"e":9},{"id":35,"t":57,"r":47,"e":9},{"id":35,"t":60,"r":44,"e":9},{"id":35,"t":63,"r":41,"e":9},{"id":35,"t":66,"r":40,"e":9},{"id":35,"t":69,"r":38,"e":7},{"id":35,"t":72,"r":37,"e":7},{"id":35,"t":75,"r":35,"e":7},{"id":35,"t":78,"r":34,"e":7},{"id":35,"t":81,"r":33,"e":7},{"id":35,"t":84,"r":32,"e":7},
    {"id":36,"t":-4,"r":6,"e":5},{"id":36,"t":-2,"r":8,"e":5},{"id":36,"t":-1,"r":50,"e":9},{"id":36,"t":1,"r":145,"e":11},{"id":36,"t":2,"r":235,"e":14},{"id":36,"t":4,"r":262,"e":18},{"id":36,"t":5,"r":275,"e":18},{"id":36,"t":7,"r":235,"e":14},{"id":36,"t":9,"r":200,"e":14},{"id":36,"t":11,"r":160,"e":14},{"id":36,"t":13,"r":130,"e":11},{"id":36,"t":15,"r":112,"e":11},{"id":36,"t":17,"r":98,"e":11},{"id":36,"t":20,"r":88,"e":11},{"id":36,"t":23,"r":80,"e":11},{"id":36,"t":26,"r":75,"e":9},{"id":36,"t":29,"r":70,"e":9},{"id":36,"t":32,"r":67,"e":9},{"id":36,"t":35,"r":63,"e":9},{"id":36,"t":38,"r":60,"e":9},{"id":36,"t":41,"r":57,"e":9},{"id":36,"t":44,"r":55,"e":9},{"id":36,"t":47,"r":53,"e":9},{"id":36,"t":50,"r":52,"e":9},{"id":36,"t":53,"r":52,"e":9},{"id":36,"t":56,"r":51,"e":9},{"id":36,"t":59,"r":46,"e":9},{"id":36,"t":62,"r":40,"e":9},{"id":36,"t":65,"r":36,"e":7},{"id":36,"t":68,"r":32,"e":7},{"id":36,"t":71,"r":28,"e":7},{"id":36,"t":72,"r":28,"e":7},
    {"id":37,"t":-4,"r":7,"e":5},{"id":37,"t":-2,"r":8,"e":5},{"id":37,"t":-1,"r":24,"e":7},{"id":37,"t":0,"r":120,"e":11},{"id":37,"t":1,"r":190,"e":14},{"id":37,"t":2,"r":290,"e":18},{"id":37,"t":4,"r":320,"e":18},{"id":37,"t":5,"r":300,"e":18},{"id":37,"t":6,"r":275,"e":18},{"id":37,"t":8,"r":240,"e":14},{"id":37,"t":10,"r":205,"e":14},{"id":37,"t":12,"r":170,"e":14},{"id":37,"t":14,"r":145,"e":11},{"id":37,"t":16,"r":125,"e":11},{"id":37,"t":18,"r":112,"e":11},{"id":37,"t":21,"r":100,"e":11},{"id":37,"t":24,"r":90,"e":11},{"id":37,"t":27,"r":84,"e":11},{"id":37,"t":30,"r":79,"e":9},{"id":37,"t":33,"r":75,"e":9},{"id":37,"t":36,"r":72,"e":9},{"id":37,"t":39,"r":69,"e":9},{"id":37,"t":42,"r":67,"e":9},{"id":37,"t":45,"r":64,"e":9},{"id":37,"t":48,"r":62,"e":9},{"id":37,"t":51,"r":61,"e":9},{"id":37,"t":54,"r":59,"e":9},{"id":37,"t":57,"r":57,"e":9},{"id":37,"t":60,"r":55,"e":9},{"id":37,"t":63,"r":52,"e":9},{"id":37,"t":66,"r":49,"e":9},{"id":37,"t":69,"r":46,"e":9},{"id":37,"t":71,"r":46,"e":9},
    {"id":38,"t":-4,"r":6,"e":5},{"id":38,"t":-2,"r":8,"e":5},{"id":38,"t":-1,"r":30,"e":7},{"id":38,"t":0,"r":155,"e":14},{"id":38,"t":1,"r":220,"e":14},{"id":38,"t":2,"r":268,"e":18},{"id":38,"t":4,"r":285,"e":18},{"id":38,"t":5,"r":280,"e":18},{"id":38,"t":7,"r":255,"e":18},{"id":38,"t":9,"r":220,"e":14},{"id":38,"t":11,"r":185,"e":14},{"id":38,"t":13,"r":155,"e":14},{"id":38,"t":15,"r":128,"e":11},{"id":38,"t":17,"r":110,"e":11},{"id":38,"t":20,"r":92,"e":11},{"id":38,"t":23,"r":84,"e":11},{"id":38,"t":26,"r":77,"e":9},{"id":38,"t":29,"r":72,"e":9},{"id":38,"t":32,"r":68,"e":9},{"id":38,"t":35,"r":64,"e":9},{"id":38,"t":38,"r":61,"e":9},{"id":38,"t":41,"r":58,"e":9},{"id":38,"t":44,"r":55,"e":9},{"id":38,"t":47,"r":52,"e":9},{"id":38,"t":50,"r":49,"e":9},{"id":38,"t":53,"r":47,"e":9},{"id":38,"t":56,"r":45,"e":9},{"id":38,"t":59,"r":42,"e":9},{"id":38,"t":62,"r":39,"e":7},{"id":38,"t":65,"r":36,"e":7},{"id":38,"t":68,"r":33,"e":7},{"id":38,"t":71,"r":30,"e":7},{"id":38,"t":74,"r":26,"e":7},{"id":38,"t":75,"r":25,"e":7},
    {"id":39,"t":-4,"r":7,"e":5},{"id":39,"t":-2,"r":8,"e":5},{"id":39,"t":-1,"r":25,"e":7},{"id":39,"t":0,"r":165,"e":14},{"id":39,"t":1,"r":235,"e":14},{"id":39,"t":2,"r":295,"e":18},{"id":39,"t":4,"r":312,"e":18},{"id":39,"t":5,"r":300,"e":18},{"id":39,"t":7,"r":255,"e":18},{"id":39,"t":9,"r":205,"e":14},{"id":39,"t":11,"r":170,"e":14},{"id":39,"t":13,"r":145,"e":11},{"id":39,"t":15,"r":130,"e":11},{"id":39,"t":17,"r":120,"e":11},{"id":39,"t":20,"r":112,"e":11},{"id":39,"t":23,"r":105,"e":11},{"id":39,"t":26,"r":99,"e":11},{"id":39,"t":29,"r":94,"e":11},{"id":39,"t":32,"r":89,"e":11},{"id":39,"t":35,"r":85,"e":11},{"id":39,"t":38,"r":81,"e":11},{"id":39,"t":41,"r":76,"e":9},{"id":39,"t":44,"r":71,"e":9},{"id":39,"t":47,"r":67,"e":9},{"id":39,"t":50,"r":62,"e":9},{"id":39,"t":53,"r":58,"e":9},{"id":39,"t":56,"r":54,"e":9},{"id":39,"t":59,"r":50,"e":9},{"id":39,"t":62,"r":46,"e":9},{"id":39,"t":65,"r":42,"e":9},{"id":39,"t":68,"r":39,"e":7},{"id":39,"t":71,"r":37,"e":7},{"id":39,"t":73,"r":36,"e":7},
    {"id":40,"t":-4,"r":10,"e":5},{"id":40,"t":-2,"r":10,"e":5},{"id":40,"t":-1,"r":24,"e":7},{"id":40,"t":0,"r":70,"e":9},{"id":40,"t":1,"r":190,"e":14},{"id":40,"t":2,"r":290,"e":18},{"id":40,"t":4,"r":310,"e":18},{"id":40,"t":5,"r":295,"e":18},{"id":40,"t":7,"r":260,"e":18},{"id":40,"t":9,"r":225,"e":14},{"id":40,"t":11,"r":195,"e":14},{"id":40,"t":13,"r":170,"e":14},{"id":40,"t":15,"r":150,"e":14},{"id":40,"t":17,"r":136,"e":11},{"id":40,"t":20,"r":122,"e":11},{"id":40,"t":23,"r":112,"e":11},{"id":40,"t":26,"r":100,"e":11},{"id":40,"t":29,"r":92,"e":11},{"id":40,"t":32,"r":86,"e":11},{"id":40,"t":35,"r":81,"e":11},{"id":40,"t":38,"r":77,"e":9},{"id":40,"t":41,"r":73,"e":9},{"id":40,"t":44,"r":69,"e":9},{"id":40,"t":47,"r":66,"e":9},{"id":40,"t":50,"r":63,"e":9},{"id":40,"t":53,"r":62,"e":9},{"id":40,"t":56,"r":60,"e":9},{"id":40,"t":59,"r":59,"e":9},{"id":40,"t":62,"r":55,"e":9},{"id":40,"t":65,"r":50,"e":9},{"id":40,"t":68,"r":46,"e":9},{"id":40,"t":71,"r":45,"e":9},{"id":40,"t":74,"r":44,"e":9},{"id":40,"t":75,"r":46,"e":9},
    {"id":41,"t":-4,"r":15,"e":7},{"id":41,"t":-2,"r":17,"e":7},{"id":41,"t":-1,"r":30,"e":7},{"id":41,"t":0,"r":100,"e":11},{"id":41,"t":1,"r":165,"e":14},{"id":41,"t":2,"r":300,"e":18},{"id":41,"t":4,"r":305,"e":18},{"id":41,"t":5,"r":290,"e":18},{"id":41,"t":7,"r":250,"e":18},{"id":41,"t":9,"r":215,"e":14},{"id":41,"t":11,"r":185,"e":14},{"id":41,"t":13,"r":165,"e":14},{"id":41,"t":15,"r":155,"e":14},{"id":41,"t":17,"r":145,"e":11},{"id":41,"t":20,"r":128,"e":11},{"id":41,"t":23,"r":115,"e":11},{"id":41,"t":26,"r":105,"e":11},{"id":41,"t":29,"r":98,"e":11},{"id":41,"t":32,"r":90,"e":11},{"id":41,"t":35,"r":84,"e":11},{"id":41,"t":38,"r":78,"e":9},{"id":41,"t":41,"r":72,"e":9},{"id":41,"t":44,"r":67,"e":9},{"id":41,"t":47,"r":63,"e":9},{"id":41,"t":50,"r":60,"e":9},{"id":41,"t":53,"r":57,"e":9},{"id":41,"t":56,"r":54,"e":9},{"id":41,"t":59,"r":50,"e":9},{"id":41,"t":62,"r":50,"e":9},{"id":41,"t":65,"r":49,"e":9},{"id":41,"t":68,"r":47,"e":9},{"id":41,"t":71,"r":42,"e":9},{"id":41,"t":72,"r":40,"e":9},
    {"id":42,"t":-4,"r":6,"e":5},{"id":42,"t":-2,"r":8,"e":5},{"id":42,"t":-1,"r":35,"e":7},{"id":42,"t":0,"r":155,"e":14},{"id":42,"t":1,"r":245,"e":14},{"id":42,"t":2,"r":268,"e":18},{"id":42,"t":4,"r":260,"e":18},{"id":42,"t":5,"r":235,"e":14},{"id":42,"t":7,"r":200,"e":14},{"id":42,"t":9,"r":160,"e":14},{"id":42,"t":11,"r":130,"e":11},{"id":42,"t":13,"r":110,"e":11},{"id":42,"t":15,"r":92,"e":11},{"id":42,"t":17,"r":80,"e":11},{"id":42,"t":20,"r":70,"e":9},{"id":42,"t":23,"r":62,"e":9},{"id":42,"t":26,"r":57,"e":9},{"id":42,"t":29,"r":54,"e":9},{"id":42,"t":32,"r":51,"e":9},{"id":42,"t":35,"r":48,"e":9},{"id":42,"t":38,"r":46,"e":9},{"id":42,"t":41,"r":44,"e":9},{"id":42,"t":44,"r":42,"e":9},{"id":42,"t":47,"r":39,"e":7},{"id":42,"t":50,"r":38,"e":7},{"id":42,"t":52,"r":38,"e":7},
    {"id":43,"t":-4,"r":7,"e":5},{"id":43,"t":-2,"r":8,"e":5},{"id":43,"t":-1,"r":55,"e":9},{"id":43,"t":0,"r":155,"e":14},{"id":43,"t":1,"r":240,"e":14},{"id":43,"t":2,"r":272,"e":18},{"id":43,"t":4,"r":290,"e":18},{"id":43,"t":5,"r":278,"e":18},{"id":43,"t":7,"r":258,"e":18},{"id":43,"t":9,"r":225,"e":14},{"id":43,"t":11,"r":190,"e":14},{"id":43,"t":13,"r":160,"e":14},{"id":43,"t":15,"r":140,"e":11},{"id":43,"t":17,"r":125,"e":11},{"id":43,"t":20,"r":110,"e":11},{"id":43,"t":23,"r":98,"e":11},{"id":43,"t":26,"r":88,"e":11},{"id":43,"t":29,"r":80,"e":11},{"id":43,"t":32,"r":74,"e":9},{"id":43,"t":35,"r":69,"e":9},{"id":43,"t":38,"r":65,"e":9},{"id":43,"t":41,"r":61,"e":9},{"id":43,"t":44,"r":57,"e":9},{"id":43,"t":47,"r":53,"e":9},{"id":43,"t":50,"r":50,"e":9},{"id":43,"t":53,"r":47,"e":9},{"id":43,"t":56,"r":44,"e":9},{"id":43,"t":59,"r":41,"e":9},{"id":43,"t":62,"r":38,"e":7},{"id":43,"t":65,"r":34,"e":7},{"id":43,"t":68,"r":31,"e":7},{"id":43,"t":71,"r":28,"e":7},{"id":43,"t":74,"r":26,"e":7},{"id":43,"t":77,"r":28,"e":7},{"id":43,"t":80,"r":33,"e":7},
    {"id":44,"t":-4,"r":6,"e":5},{"id":44,"t":-2,"r":8,"e":5},{"id":44,"t":-1,"r":90,"e":11},{"id":44,"t":0,"r":185,"e":14},{"id":44,"t":1,"r":262,"e":18},{"id":44,"t":2,"r":277,"e":18},{"id":44,"t":4,"r":283,"e":18},{"id":44,"t":5,"r":265,"e":18},{"id":44,"t":7,"r":230,"e":14},{"id":44,"t":9,"r":190,"e":14},{"id":44,"t":11,"r":160,"e":14},{"id":44,"t":13,"r":138,"e":11},{"id":44,"t":15,"r":122,"e":11},{"id":44,"t":17,"r":112,"e":11},{"id":44,"t":20,"r":100,"e":11},{"id":44,"t":23,"r":94,"e":11},{"id":44,"t":26,"r":88,"e":11},{"id":44,"t":29,"r":84,"e":11},{"id":44,"t":32,"r":78,"e":9},{"id":44,"t":35,"r":73,"e":9},{"id":44,"t":38,"r":69,"e":9},{"id":44,"t":41,"r":65,"e":9},{"id":44,"t":44,"r":62,"e":9},{"id":44,"t":47,"r":59,"e":9},{"id":44,"t":50,"r":56,"e":9},{"id":44,"t":53,"r":53,"e":9},{"id":44,"t":56,"r":50,"e":9},{"id":44,"t":59,"r":47,"e":9},{"id":44,"t":62,"r":44,"e":9},{"id":44,"t":65,"r":41,"e":9},{"id":44,"t":68,"r":40,"e":9},{"id":44,"t":71,"r":38,"e":7},{"id":44,"t":74,"r":37,"e":7},{"id":44,"t":77,"r":35,"e":7},{"id":44,"t":80,"r":33,"e":7},{"id":44,"t":83,"r":31,"e":7},{"id":44,"t":86,"r":29,"e":7},{"id":44,"t":89,"r":27,"e":7},{"id":44,"t":92,"r":30,"e":7},{"id":44,"t":94,"r":37,"e":7},
    {"id":45,"t":-4,"r":15,"e":7},{"id":45,"t":-2,"r":15,"e":7},{"id":45,"t":-1,"r":85,"e":11},{"id":45,"t":0,"r":185,"e":14},{"id":45,"t":1,"r":262,"e":18},{"id":45,"t":2,"r":283,"e":18},{"id":45,"t":4,"r":292,"e":18},{"id":45,"t":5,"r":265,"e":18},{"id":45,"t":7,"r":232,"e":14},{"id":45,"t":9,"r":185,"e":14},{"id":45,"t":11,"r":150,"e":14},{"id":45,"t":13,"r":128,"e":11},{"id":45,"t":15,"r":115,"e":11},{"id":45,"t":17,"r":106,"e":11},{"id":45,"t":20,"r":95,"e":11},{"id":45,"t":23,"r":90,"e":11},{"id":45,"t":26,"r":87,"e":11},{"id":45,"t":29,"r":84,"e":11},{"id":45,"t":32,"r":78,"e":9},{"id":45,"t":35,"r":73,"e":9},{"id":45,"t":38,"r":69,"e":9},{"id":45,"t":41,"r":65,"e":9},{"id":45,"t":44,"r":62,"e":9},{"id":45,"t":47,"r":59,"e":9},{"id":45,"t":50,"r":56,"e":9},{"id":45,"t":53,"r":53,"e":9},{"id":45,"t":56,"r":50,"e":9},{"id":45,"t":59,"r":47,"e":9},{"id":45,"t":62,"r":44,"e":9},{"id":45,"t":65,"r":42,"e":9},{"id":45,"t":68,"r":40,"e":9},{"id":45,"t":71,"r":37,"e":7},{"id":45,"t":74,"r":33,"e":7},{"id":45,"t":77,"r":31,"e":7},{"id":45,"t":78,"r":30,"e":7}
  ]},
  "transform": [
    {"calculate": "floor((datum.id - 1) / 9)", "as": "col"},
    {"calculate": "(datum.id - 1) % 9", "as": "row"},
    {"calculate": "datum.r - datum.e", "as": "lo"},
    {"calculate": "datum.r + datum.e", "as": "hi"}
  ],
  "facet": {
    "row": {"field": "row", "type": "ordinal", "title": "Rate (counts/s)", "header": {"labels": false, "titlePadding": 5.5}},
    "column": {"field": "col", "type": "ordinal", "title": "Time (s)", "header": {"labels": false, "titleOrient": "bottom", "titlePadding": -9.5}}
  },
  "resolve": {"scale": {"y": "independent"}},
  "spec": {
    "width": 111,
    "height": 35.6,
    "layer": [
      {
        "mark": {"type": "errorbar", "ticks": {"size": 2.2}, "thickness": 0.8, "color": "#1a1aff", "opacity": 0.85},
        "encoding": {
          "x": {"field": "t", "type": "quantitative", "title": null,
                "scale": {"domain": [-5, 125], "nice": false, "zero": false},
                "axis": {"values": [0, 25, 50, 75, 100, 125], "labelFontSize": 5, "tickSize": 1.5, "labelPadding": 0, "labelFlush": false}},
          "y": {"field": "r", "type": "quantitative", "title": null,
                "scale": {"zero": false, "nice": false},
                "axis": {"labelFontSize": 4.7, "tickSize": 2, "labelPadding": 1, "labelOverlap": false,
                         "values": {"expr": "floor(domain('child_y')[1]/[10,20,25,50,100,200,250,500,1000][((span(domain('child_y'))>30)+(span(domain('child_y'))>60)+(span(domain('child_y'))>75)+(span(domain('child_y'))>150)+(span(domain('child_y'))>300)+(span(domain('child_y'))>600)+(span(domain('child_y'))>750)+(span(domain('child_y'))>1500))])-ceil(domain('child_y')[0]/[10,20,25,50,100,200,250,500,1000][((span(domain('child_y'))>30)+(span(domain('child_y'))>60)+(span(domain('child_y'))>75)+(span(domain('child_y'))>150)+(span(domain('child_y'))>300)+(span(domain('child_y'))>600)+(span(domain('child_y'))>750)+(span(domain('child_y'))>1500))])>=1?sequence(ceil(domain('child_y')[0]/[10,20,25,50,100,200,250,500,1000][((span(domain('child_y'))>30)+(span(domain('child_y'))>60)+(span(domain('child_y'))>75)+(span(domain('child_y'))>150)+(span(domain('child_y'))>300)+(span(domain('child_y'))>600)+(span(domain('child_y'))>750)+(span(domain('child_y'))>1500))])*[10,20,25,50,100,200,250,500,1000][((span(domain('child_y'))>30)+(span(domain('child_y'))>60)+(span(domain('child_y'))>75)+(span(domain('child_y'))>150)+(span(domain('child_y'))>300)+(span(domain('child_y'))>600)+(span(domain('child_y'))>750)+(span(domain('child_y'))>1500))],domain('child_y')[1]+0.001,[10,20,25,50,100,200,250,500,1000][((span(domain('child_y'))>30)+(span(domain('child_y'))>60)+(span(domain('child_y'))>75)+(span(domain('child_y'))>150)+(span(domain('child_y'))>300)+(span(domain('child_y'))>600)+(span(domain('child_y'))>750)+(span(domain('child_y'))>1500))]):sequence(ceil(domain('child_y')[0]/[5,10,20,25,50,100,200,250,500][((span(domain('child_y'))>30)+(span(domain('child_y'))>60)+(span(domain('child_y'))>75)+(span(domain('child_y'))>150)+(span(domain('child_y'))>300)+(span(domain('child_y'))>600)+(span(domain('child_y'))>750)+(span(domain('child_y'))>1500))])*[5,10,20,25,50,100,200,250,500][((span(domain('child_y'))>30)+(span(domain('child_y'))>60)+(span(domain('child_y'))>75)+(span(domain('child_y'))>150)+(span(domain('child_y'))>300)+(span(domain('child_y'))>600)+(span(domain('child_y'))>750)+(span(domain('child_y'))>1500))],domain('child_y')[1]+0.001,[5,10,20,25,50,100,200,250,500][((span(domain('child_y'))>30)+(span(domain('child_y'))>60)+(span(domain('child_y'))>75)+(span(domain('child_y'))>150)+(span(domain('child_y'))>300)+(span(domain('child_y'))>600)+(span(domain('child_y'))>750)+(span(domain('child_y'))>1500))])"}}},
          "yError": {"field": "e"}
        }
      },
      {
        "mark": {"type": "point", "filled": true, "size": 1.8, "color": "#1a1aff", "opacity": 0.9},
        "encoding": {
          "x": {"field": "t", "type": "quantitative", "title": null},
          "y": {"field": "r", "type": "quantitative", "title": null}
        }
      },
      {
        "transform": [
          {"aggregate": [{"op": "min", "field": "lo", "as": "ymin"}, {"op": "max", "field": "hi", "as": "ymax"}], "groupby": ["id", "row", "col"]},
          {"calculate": "1.1 * (datum.ymax - datum.ymin)", "as": "sp"},
          {"calculate": "datum.ymin - 0.05 * (datum.ymax - datum.ymin)", "as": "y0"},
          {"calculate": "datum.y0 + datum.sp", "as": "y1"},
          {"calculate": "datum.y0 + 0.45 * datum.sp", "as": "by0"},
          {"calculate": "datum.y0 + 0.89 * datum.sp", "as": "by1"},
          {"calculate": "datum.y0 + 0.54 * datum.sp", "as": "g0"},
          {"calculate": "datum.y0 + 0.82 * datum.sp", "as": "g1"},
          {"calculate": "datum.y0 + 0.675 * datum.sp", "as": "gm"},
          {"calculate": "datum.id < 10 ? 68 : 61.5", "as": "bx0"},
          {"calculate": "datum.id < 10 ? 81 : 74.5", "as": "gx"},
          {"calculate": "datum.gx - 10.5", "as": "gl"},
          {"calculate": "datum.gx + 10.5", "as": "gr"},
          {"calculate": "'#' + datum.id", "as": "lab"}
        ],
        "layer": [
          {
            "mark": {"type": "rule", "strokeOpacity": 0},
            "encoding": {
              "y": {"field": "y0", "type": "quantitative", "title": null},
              "y2": {"field": "y1"}
            }
          },
          {
            "mark": {"type": "rect", "fill": "white", "fillOpacity": 0.8, "stroke": "#cccccc", "strokeWidth": 0.8, "cornerRadius": 2},
            "encoding": {
              "x": {"field": "bx0", "type": "quantitative", "title": null},
              "x2": {"datum": 119.8},
              "y": {"field": "by0", "type": "quantitative", "title": null},
              "y2": {"field": "by1"}
            }
          },
          {
            "mark": {"type": "rule", "color": "#1a1aff", "strokeWidth": 0.8, "opacity": 0.85},
            "encoding": {
              "x": {"field": "gl", "type": "quantitative", "title": null},
              "x2": {"field": "gr"},
              "y": {"field": "gm", "type": "quantitative", "title": null}
            }
          },
          {
            "mark": {"type": "rule", "color": "#1a1aff", "strokeWidth": 0.8, "opacity": 0.85},
            "encoding": {
              "x": {"field": "gx", "type": "quantitative", "title": null},
              "y": {"field": "g0", "type": "quantitative", "title": null},
              "y2": {"field": "g1"}
            }
          },
          {
            "mark": {"type": "tick", "orient": "horizontal", "size": 3, "thickness": 0.7, "color": "#1a1aff", "opacity": 0.9},
            "encoding": {
              "x": {"field": "gx", "type": "quantitative", "title": null},
              "y": {"field": "g0", "type": "quantitative", "title": null}
            }
          },
          {
            "mark": {"type": "tick", "orient": "horizontal", "size": 3, "thickness": 0.7, "color": "#1a1aff", "opacity": 0.9},
            "encoding": {
              "x": {"field": "gx", "type": "quantitative", "title": null},
              "y": {"field": "g1", "type": "quantitative", "title": null}
            }
          },
          {
            "mark": {"type": "text", "align": "right", "baseline": "middle", "fontSize": 8.4, "color": "#111111"},
            "encoding": {
              "x": {"datum": 115},
              "y": {"field": "gm", "type": "quantitative", "title": null},
              "text": {"field": "lab"}
            }
          }
        ]
      }
    ]
  },
  "config": {
    "font": "DejaVu Sans",
    "view": {"stroke": "#222222", "strokeWidth": 0.8},
    "axis": {"labelFont": "DejaVu Sans", "labelColor": "#222222", "tickColor": "#222222", "tickWidth": 0.6, "domain": false, "grid": false},
    "header": {"titleFont": "DejaVu Sans", "titleFontSize": 12.5, "titleFontWeight": "normal", "titleColor": "black"}
  }
}
